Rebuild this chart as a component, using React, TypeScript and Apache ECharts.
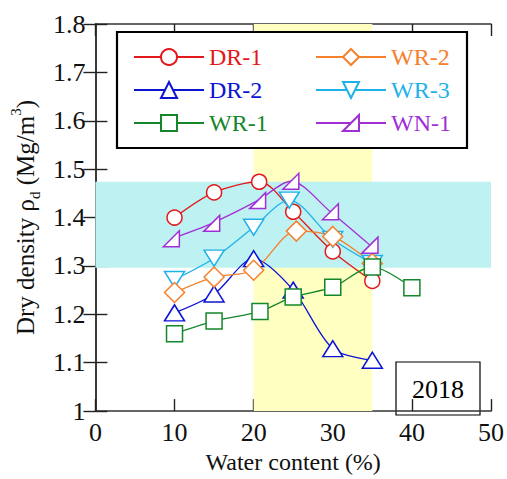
import { useEffect, useRef } from "react";
import * as echarts from "echarts";

// Compaction curves: water content (%) vs dry density (Mg/m3)
const waterDR1 = [10, 15, 20.7, 25, 30, 35];
const densityDR1 = [1.4, 1.452, 1.474, 1.412, 1.33, 1.269];
const waterDR2 = [10, 15, 20, 25, 30, 35];
const densityDR2 = [1.203, 1.242, 1.315, 1.25, 1.129, 1.105];
const waterWR1 = [10, 15, 20.8, 25, 30, 35, 40];
const densityWR1 = [1.16, 1.186, 1.206, 1.236, 1.256, 1.298, 1.255];
const waterWR2 = [10, 15, 20, 25.4, 30, 35];
const densityWR2 = [1.245, 1.277, 1.291, 1.372, 1.361, 1.305];
const waterWR3 = [10, 15, 20, 24.5, 30, 35];
const densityWR3 = [1.272, 1.316, 1.38, 1.436, 1.355, 1.305];
const waterWN1 = [9.6, 14.7, 20.5, 24.7, 29.7, 34.7];
const densityWN1 = [1.356, 1.388, 1.435, 1.475, 1.412, 1.343];

// Shaded target ranges
const waterRange = [20, 35];
const densityRange = [1.296, 1.474];

const xTicks = [0, 50, 10];
const yTicks = [1, 1.8, 0.1];
const yearLabel = "2018";

const FONT = "'Liberation Serif', 'Times New Roman', serif";

const colors = {
  DR1: "#e3191c",
  DR2: "#0c14d4",
  WR1: "#15862a",
  WR2: "#f5812c",
  WR3: "#1fb2ea",
  WN1: "#a12fd6",
};

const zip = (xs: number[], ys: number[]) => xs.map((x, i) => [x, ys[i]]);

function curve(
  name: string,
  color: string,
  xs: number[],
  ys: number[],
  symbol: string,
  symbolSize: number | number[],
  symbolRotate = 0
) {
  return {
    name,
    type: "line",
    data: zip(xs, ys),
    smooth: 0.3,
    symbol,
    symbolSize,
    symbolRotate,
    showSymbol: true,
    color,
    lineStyle: { color, width: 1.3 },
    itemStyle: { color: "#ffffff", borderColor: color, borderWidth: 1.5 },
    z: 3,
  };
}

export default function App() {
  const ref = useRef<HTMLDivElement>(null);

  useEffect(() => {
    if (!ref.current) return;
    const chart = echarts.init(ref.current, null, { renderer: "svg" });

    const axisLine = { show: true, lineStyle: { color: "#333", width: 1.6 } };
    const axisTick = { show: true, inside: true, length: 12, lineStyle: { color: "#222", width: 1.4 } };
    const labelStyle = { fontFamily: FONT, fontSize: 26, color: "#111" };

    const legendCommon = {
      orient: "vertical",
      top: 45,
      padding: 0,
      itemWidth: 70,
      itemHeight: 20,
      itemGap: 9,
      z: 60,
      textStyle: { fontFamily: FONT, fontSize: 24, lineHeight: 20 },
    };

    chart.setOption({
      animation: false,
      backgroundColor: "#ffffff",
      grid: { left: 95, top: 24, width: 400, height: 396, containLabel: false },
      xAxis: [
        {
          type: "value",
          min: xTicks[0],
          max: xTicks[1],
          interval: xTicks[2],
          position: "bottom",
          axisLine,
          axisTick,
          splitLine: { show: false },
          axisLabel: { ...labelStyle, margin: 8 },
          name: "Water content (%)",
          nameLocation: "middle",
          nameGap: 38,
          nameTextStyle: { fontFamily: FONT, fontSize: 24, color: "#111" },
        },
        {
          type: "value",
          min: xTicks[0],
          max: xTicks[1],
          interval: xTicks[2],
          position: "top",
          axisLine,
          axisTick,
          splitLine: { show: false },
          axisLabel: { show: false },
        },
      ],
      yAxis: [
        {
          type: "value",
          min: yTicks[0],
          max: yTicks[1],
          interval: yTicks[2],
          position: "left",
          axisLine,
          axisTick,
          splitLine: { show: false },
          axisLabel: {
            ...labelStyle,
            margin: 10,
            formatter: (v: number) => String(Math.round(v * 10) / 10),
          },
          name: "{m|Dry density ρ}{sub|d}{m| (Mg/m}{sup|3}{m|)}",
          nameLocation: "middle",
          nameGap: 44,
          nameRotate: 90,
          nameTextStyle: {
            fontFamily: FONT,
            fontSize: 25,
            color: "#111",
            rich: {
              m: { fontFamily: FONT, fontSize: 25, lineHeight: 34, verticalAlign: "middle", color: "#111" },
              sub: { fontFamily: FONT, fontSize: 15, lineHeight: 15, verticalAlign: "bottom", color: "#111" },
              sup: { fontFamily: FONT, fontSize: 15, lineHeight: 15, verticalAlign: "top", color: "#111" },
            },
          },
        },
        {
          type: "value",
          min: yTicks[0],
          max: yTicks[1],
          interval: yTicks[2],
          position: "right",
          axisLine,
          axisTick,
          splitLine: { show: false },
          axisLabel: { show: false },
        },
      ],
      legend: [
        {
          ...legendCommon,
          left: 133,
          data: [
            { name: "DR-1", textStyle: { color: colors.DR1 } },
            { name: "DR-2", textStyle: { color: colors.DR2 } },
            { name: "WR-1", textStyle: { color: colors.WR1 } },
          ],
        },
        {
          ...legendCommon,
          left: 315,
          data: [
            { name: "WR-2", textStyle: { color: colors.WR2 } },
            { name: "WR-3", textStyle: { color: colors.WR3 } },
            { name: "WN-1", textStyle: { color: colors.WN1 } },
          ],
        },
      ],
      graphic: [
        {
          type: "rect",
          z: 50,
          shape: { x: 117, y: 32, width: 350, height: 116 },
          style: { fill: "#ffffff", stroke: "#000", lineWidth: 2.2 },
        },
        {
          type: "group",
          z: 50,
          children: [
            {
              type: "rect",
              shape: { x: 396, y: 362, width: 84, height: 53 },
              style: { fill: "#ffffff", stroke: "#000", lineWidth: 1.2 },
            },
            {
              type: "text",
              x: 438,
              y: 389,
              style: {
                text: yearLabel,
                fontFamily: FONT,
                fontSize: 26,
                fill: "#000",
                align: "center",
                verticalAlign: "middle",
              },
            },
          ],
        },
      ],
      series: [
        {
          type: "line",
          data: [],
          z: 1,
          silent: true,
          markArea: {
            silent: true,
            data: [
              [
                { xAxis: waterRange[0], itemStyle: { color: "#ffffc2" } },
                { xAxis: waterRange[1] },
              ],
              [
                { yAxis: densityRange[0], itemStyle: { color: "#bef2f2" } },
                { yAxis: densityRange[1] },
              ],
            ],
          },
        },
        curve("DR-1", colors.DR1, waterDR1, densityDR1, "circle", 15),
        curve("DR-2", colors.DR2, waterDR2, densityDR2, "triangle", [20, 16]),
        curve("WR-3", colors.WR3, waterWR3, densityWR3, "triangle", [20, 16], 180),
        curve("WR-2", colors.WR2, waterWR2, densityWR2, "diamond", [20, 20]),
        curve("WN-1", colors.WN1, waterWN1, densityWN1, "path://M0,1 L1,0 L1,1 Z", [16, 16]),
        curve("WR-1", colors.WR1, waterWR1, densityWR1, "rect", 16),
      ],
    });

    return () => chart.dispose();
  }, []);

  return <div ref={ref} style={{ width: 507, height: 479, position: "absolute", left: 0, top: 0 }} />;
}
